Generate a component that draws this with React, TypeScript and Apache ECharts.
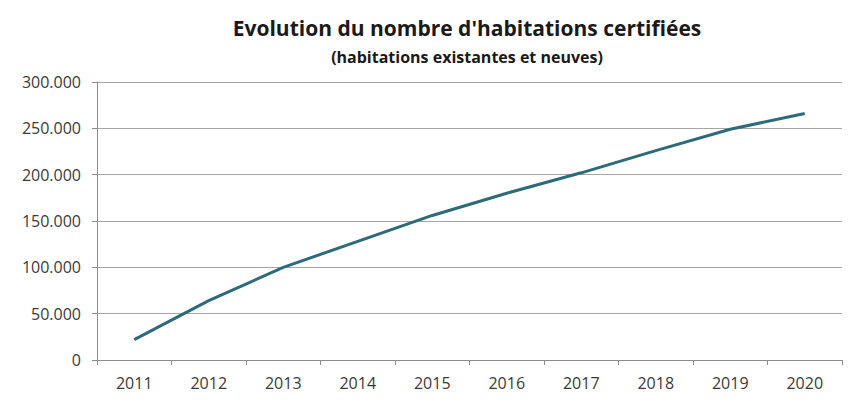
import React, { useEffect, useRef } from "react";
import * as echarts from "echarts";

const years = ["2011", "2012", "2013", "2014", "2015", "2016", "2017", "2018", "2019", "2020"];
const certified = [22000, 64000, 100000, 128000, 156000, 180000, 202000, 226000, 249000, 266000];
const titleText = "Evolution du nombre d'habitations certifiées";
const subtitleText = "(habitations existantes et neuves)";

const fmt = (v: number) => {
  if (v === 0) return "0";
  const s = String(Math.round(v));
  return s.replace(/\B(?=(\d{3})+(?!\d))/g, ".");
};

export default function App() {
  const ref = useRef<HTMLDivElement>(null);
  useEffect(() => {
    if (!ref.current) return;
    const chart = echarts.init(ref.current, null, { renderer: "svg" });
    chart.setOption({
      animation: false,
      backgroundColor: "#ffffff",
      title: {
        text: titleText,
        subtext: subtitleText,
        left: 462,
        textAlign: "center",
        top: 12,
        itemGap: 11,
        textStyle: { fontFamily: "Open Sans", fontWeight: "bold", fontSize: 21, color: "#1a1a1a" },
        subtextStyle: { fontFamily: "Open Sans", fontWeight: "bold", fontSize: 16, color: "#1a1a1a" },
      },
      grid: { left: 97, right: 23, top: 82, bottom: 44, containLabel: false },
      xAxis: {
        type: "category",
        data: years,
        boundaryGap: true,
        axisLine: { lineStyle: { color: "#8c8c8c", width: 1 } },
        axisTick: { show: true, length: 5, inside: false, lineStyle: { color: "#8c8c8c" } },
        axisLabel: { color: "#3a3a3a", fontSize: 16, fontFamily: "Open Sans", margin: 15 },
        splitLine: { show: false },
      },
      yAxis: {
        type: "value",
        min: 0,
        max: 300000,
        interval: 50000,
        axisLine: { show: true, lineStyle: { color: "#8c8c8c", width: 1 } },
        axisTick: { show: true, length: 5, lineStyle: { color: "#8c8c8c" } },
        axisLabel: { color: "#3a3a3a", fontSize: 16, fontFamily: "Open Sans", margin: 16, formatter: fmt },
        splitLine: { show: true, lineStyle: { color: "#a6a6a6", width: 1 } },
      },
      series: [
        {
          type: "line",
          data: certified,
          symbol: "none",
          smooth: false,
          lineStyle: { color: "#2e6b7a", width: 3 },
        },
      ],
    });
    return () => chart.dispose();
  }, []);
  return (
    <div
      ref={ref}
      style={{ position: "fixed", left: 0, top: 0, width: 865, height: 404, background: "#fff" }}
    />
  );
}
